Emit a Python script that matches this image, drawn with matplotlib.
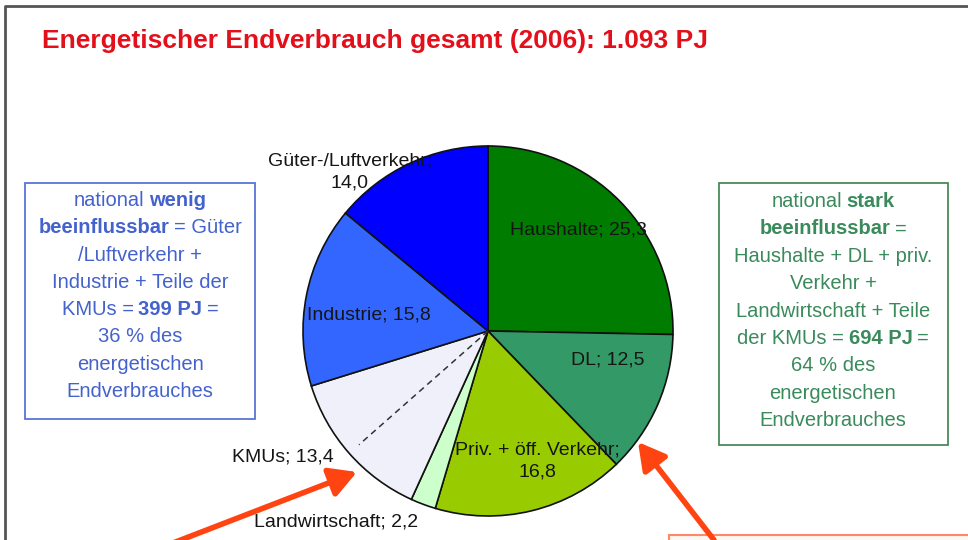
import matplotlib
matplotlib.use('Agg')
import matplotlib.pyplot as plt
from matplotlib.patches import FancyArrowPatch, Rectangle
from matplotlib.lines import Line2D
import numpy as np

# ---------------- data ----------------
title = "Energetischer Endverbrauch gesamt (2006): 1.093 PJ"
categories = ["Haushalte", "DL", "Priv. + öff. Verkehr", "Landwirtschaft",
              "KMUs", "Industrie", "Güter-/Luftverkehr"]
values = [25.3, 12.5, 16.8, 2.2, 13.4, 15.8, 14.0]
two_line = [False, False, True, False, False, False, True]
colors = ['#007d00', '#339966', '#99cc00', '#ccffcc', '#f0f0fa', '#3366ff', '#0000ff']

left_box_lines = [
    [("national", False), ("wenig", True)],
    [("beeinflussbar", True), ("= Güter", False)],
    [("/Luftverkehr +", False)],
    [("Industrie + Teile der", False)],
    [("KMUs =", False), ("399 PJ", True), ("=", False)],
    [("36 % des", False)],
    [("energetischen", False)],
    [("Endverbrauches", False)],
]
right_box_lines = [
    [("national", False), ("stark", True)],
    [("beeinflussbar", True), ("=", False)],
    [("Haushalte + DL + priv.", False)],
    [("Verkehr +", False)],
    [("Landwirtschaft + Teile", False)],
    [("der KMUs =", False), ("694 PJ", True), ("=", False)],
    [("64 % des", False)],
    [("energetischen", False)],
    [("Endverbrauches", False)],
]

# ---------------- setup ----------------
W, H = 968, 540
plt.rcParams['font.family'] = ['Liberation Sans', 'DejaVu Sans']
fig = plt.figure(figsize=(W / 100, H / 100), dpi=100)
fig.patch.set_facecolor('white')


def fx(x):
    return x / W


def fy(y):
    return 1 - y / H


# frame lines
fig.add_artist(Line2D([fx(5), fx(5), fx(970)], [fy(545), fy(6), fy(6)],
                      color='#555555', lw=2, transform=fig.transFigure))

# title
fig.text(fx(42), fy(41), title, color='#e3101c', fontsize=19, fontweight='bold',
         family=['Liberation Sans Narrow', 'Liberation Sans', 'DejaVu Sans'],
         ha='left', va='center')

# ---------------- pie ----------------
CX, CY, R = 488, 331, 185
half = 200
ax = fig.add_axes([fx(CX - half), fy(CY + half), 2 * half / W, 2 * half / H])
wedges, _ = ax.pie(values, colors=colors, startangle=90, counterclock=False,
                   radius=1, wedgeprops=dict(edgecolor='#111111', linewidth=1.2))
lim = half / R
ax.set_xlim(-lim, lim)
ax.set_ylim(-lim, lim)
ax.axis('off')

# dashed split line inside KMUs wedge
wk = wedges[categories.index("KMUs")]
mid = np.deg2rad((wk.theta1 + wk.theta2) / 2)
ax.plot([0, 0.93 * np.cos(mid)], [0, 0.93 * np.sin(mid)],
        ls=(0, (4, 3)), color='#333333', lw=1.1)

# labels (pixel positions of label centres)
label_pos = {
    "Haushalte": (578, 230),
    "DL": (608, 360),
    "Priv. + öff. Verkehr": (537, 461),
    "Landwirtschaft": (336, 522),
    "KMUs": (283, 457),
    "Industrie": (369, 315),
    "Güter-/Luftverkehr": (350, 172),
}
for cat, v, tl in zip(categories, values, two_line):
    vs = f"{v:.1f}".replace('.', ',')
    txt = f"{cat};\n{vs}" if tl else f"{cat}; {vs}"
    px, py = label_pos[cat]
    ax.text((px - CX) / R, (CY - py) / R, txt, ha='center', va='center',
            multialignment='center', fontsize=14, color='#151515',
            linespacing=1.35, clip_on=False)

# ---------------- rich-text boxes ----------------
renderer = fig.canvas.get_renderer()


def rich_block(lines, cx, y0, dy, color, size):
    probe1 = fig.text(0, 0, "x x", fontsize=size)
    probe2 = fig.text(0, 0, "xx", fontsize=size)
    sp = probe1.get_window_extent(renderer).width - probe2.get_window_extent(renderer).width
    sp *= 0.8
    probe1.remove()
    probe2.remove()
    for i, segs in enumerate(lines):
        ybase = y0 + i * dy + 7
        texts = []
        for s, b in segs:
            t = fig.text(0, fy(ybase), s, fontsize=size, color=color,
                         fontweight='bold' if b else 'normal',
                         ha='left', va='baseline')
            texts.append(t)
        widths = [t.get_window_extent(renderer).width for t in texts]
        total = sum(widths) + sp * (len(texts) - 1)
        x = cx - total / 2
        for t, w in zip(texts, widths):
            t.set_x(fx(x))
            x += w + sp


# left box
fig.add_artist(Rectangle((fx(25), fy(419)), (255 - 25) / W, (419 - 183) / H,
                         transform=fig.transFigure, fill=False,
                         edgecolor='#5a74d6', lw=1.3))
rich_block(left_box_lines, 140, 199, 27.3, '#4462cc', 14.5)

# right box
fig.add_artist(Rectangle((fx(719), fy(445)), (948 - 719) / W, (445 - 183) / H,
                         transform=fig.transFigure, fill=False,
                         edgecolor='#4a8a5a', lw=1.3))
rich_block(right_box_lines, 833, 200, 27.4, '#3a8a5c', 14.5)

# bottom-right salmon box (cut off)
fig.add_artist(Rectangle((fx(669), fy(560)), (980 - 669) / W, (560 - 535) / H,
                         transform=fig.transFigure, facecolor='#fff6f2',
                         edgecolor='#ff8866', lw=1.5))

# arrows
for (x0, y0), (x1, y1) in [((160, 548), (357, 472)), ((714, 540), (638, 442))]:
    fig.add_artist(FancyArrowPatch((fx(x0), fy(y0)), (fx(x1), fy(y1)),
                                   transform=fig.transFigure,
                                   arrowstyle='-|>,head_length=0.9,head_width=0.5',
                                   mutation_scale=18, color='#ff4411', lw=4,
                                   shrinkA=0, shrinkB=0))

fig.savefig('out.png', dpi=100, facecolor='white')
